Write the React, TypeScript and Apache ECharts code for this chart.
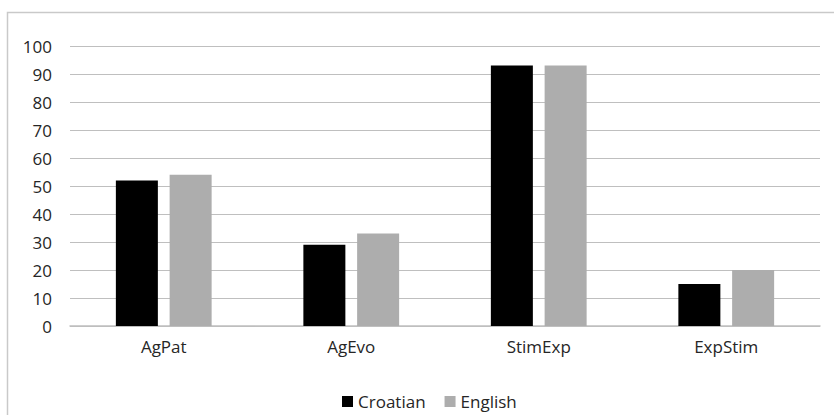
import React, { useEffect, useRef } from "react";
import * as echarts from "echarts";

const categories = ["AgPat", "AgEvo", "StimExp", "ExpStim"];
const croatian = [52, 29, 93, 15];
const english = [54, 33, 93, 20];
const seriesNames = ["Croatian", "English"];

export default function App() {
  const ref = useRef<HTMLDivElement>(null);
  useEffect(() => {
    if (!ref.current) return;
    const chart = echarts.init(ref.current, null, { renderer: "svg" });
    const font = "'Open Sans', Lato, sans-serif";
    chart.setOption({
      animation: false,
      backgroundColor: "#ffffff",
      graphic: [
        {
          type: "rect",
          shape: { x: 7.5, y: 12.5, width: 900, height: 500 },
          style: { fill: "none", stroke: "#c9c9c9", lineWidth: 1.5 },
          silent: true,
        },
      ],
      grid: { left: 70, right: 14, top: 46, bottom: 89 },
      legend: {
        data: seriesNames,
        left: 337,
        top: 388,
        itemWidth: 11,
        itemHeight: 11,
        itemGap: 19,
        textStyle: { fontFamily: font, fontSize: 17, color: "#262626" },
        icon: "rect",
      },
      xAxis: {
        type: "category",
        data: categories,
        axisLine: { show: true, lineStyle: { color: "#bfbfbf", width: 1.5 } },
        axisTick: { show: false },
        axisLabel: { fontFamily: font, fontSize: 17, color: "#262626", margin: 12 },
      },
      yAxis: {
        type: "value",
        min: 0,
        max: 100,
        interval: 10,
        axisLine: { show: false },
        axisTick: { show: false },
        axisLabel: { fontFamily: font, fontSize: 17, color: "#262626", margin: 18 },
        splitLine: { lineStyle: { color: "#bfbfbf", width: 1.2 } },
      },
      series: [
        {
          name: seriesNames[0],
          type: "bar",
          data: croatian,
          barWidth: 42,
          barGap: "28%",
          itemStyle: { color: "#000000" },
        },
        {
          name: seriesNames[1],
          type: "bar",
          data: english,
          barWidth: 42,
          barGap: "28%",
          itemStyle: { color: "#adadad" },
        },
      ],
    });
    return () => chart.dispose();
  }, []);
  return (
    <div
      ref={ref}
      style={{ position: "absolute", left: 0, top: 0, width: 834, height: 415 }}
    />
  );
}
